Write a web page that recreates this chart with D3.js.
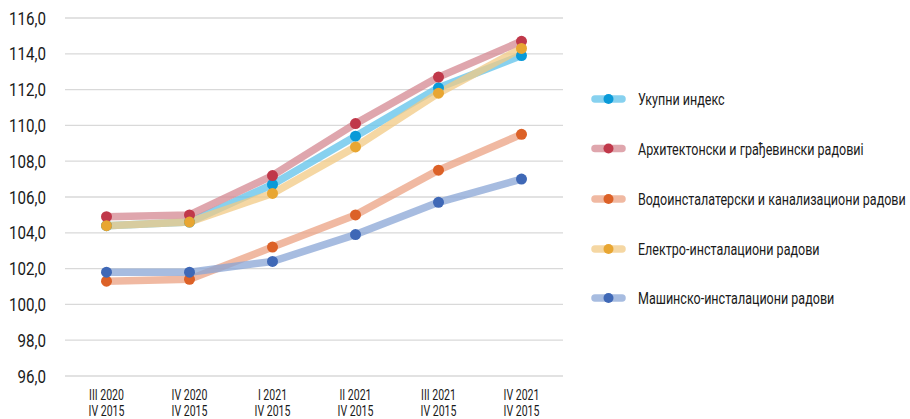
<!DOCTYPE html>
<html><head><meta charset="utf-8">
<script src="https://cdn.jsdelivr.net/npm/d3@7"></script>
<style>
body{margin:0;background:#fff;}
text{font-family:"Roboto",sans-serif;fill:#1a1a1a;}
</style></head>
<body><svg id="c" width="910" height="419"></svg>
<script>
const categories = [["III 2020","IV 2015"],["IV 2020","IV 2015"],["I 2021","IV 2015"],["II 2021","IV 2015"],["III 2021","IV 2015"],["IV 2021","IV 2015"]];
const seriesNames = ["Укупни индекс","Архитектонски и грађевински радовиі","Водоинсталатерски и канализациони радови","Електро-инсталациони радови","Машинско-инсталациони радови"];
const ukupni = [104.4,104.6,106.7,109.4,112.1,113.9];
const arhitektonski = [104.9,105.0,107.2,110.1,112.7,114.7];
const vodoinstalaterski = [101.3,101.4,103.2,105.0,107.5,109.5];
const elektro = [104.4,104.6,106.2,108.8,111.8,114.3];
const masinsko = [101.8,101.8,102.4,103.9,105.7,107.0];
const yTicks = [96,98,100,102,104,106,108,110,112,114,116];
const lineColors = ["#5fc1ea","#d48891","#eba283","#f1c984","#8aa5d6"];
const dotColors = ["#0a9ad8","#c0384a","#dc6127","#e8a632","#3f68b6"];
const allSeries = [ukupni, arhitektonski, vodoinstalaterski, elektro, masinsko];

const svg = d3.select("#c");
const x = d3.scaleBand().domain(d3.range(categories.length)).range([65,563]);
const y = d3.scaleLinear().domain([96,116]).range([376,18]);

// condense text horizontally by a ratio, around its anchor x
function condense(sel, ratio){
  sel.each(function(){
    const ax = +(this.getAttribute("x") || 0);
    this.setAttribute("transform", `translate(${ax},0) scale(${ratio},1) translate(${-ax},0)`);
  });
}

// grid
svg.append("g").selectAll("line").data(yTicks).join("line")
  .attr("x1",65).attr("x2",563).attr("y1",d=>y(d)).attr("y2",d=>y(d))
  .attr("stroke","#d9d9d9").attr("stroke-width",1.3);

// y axis labels
const yAxis = d3.axisLeft(y).tickValues(yTicks).tickSize(0).tickPadding(0)
  .tickFormat(d=>d3.format(".1f")(d).replace(".",","));
const ya = svg.append("g").attr("transform","translate(46,0)").call(yAxis);
ya.select(".domain").remove();
const yt = ya.selectAll("text").attr("font-size",19).attr("font-family","Roboto, sans-serif").attr("fill","#1a1a1a");
{
  const ref = yt.filter(d=>d===116).node().getComputedTextLength();
  condense(yt, 37/ref);
}

// x axis labels
const xAxis = d3.axisBottom(x).tickSize(0).tickFormat("");
const xa = svg.append("g").attr("transform","translate(0,376)").call(xAxis);
xa.select(".domain").remove();
xa.selectAll(".tick").each(function(d){
  const g = d3.select(this);
  g.append("text").attr("class","xl").attr("text-anchor","middle").attr("font-size",14).attr("x",0).attr("y",24).text(categories[d][0]);
  g.append("text").attr("class","xl").attr("text-anchor","middle").attr("font-size",14).attr("x",0).attr("y",40).text(categories[d][1]);
});
{
  const xl = xa.selectAll("text.xl");
  const ref = xl.filter((d,i)=>i===0).node().getComputedTextLength();
  condense(xl, 35/ref);
}

const line = d3.line().x((d,i)=>x(i)+x.bandwidth()/2).y(d=>y(d));
allSeries.forEach((s,k)=>{
  svg.append("path").datum(s).attr("d",line).attr("fill","none")
    .attr("stroke",lineColors[k]).attr("stroke-width",7.5).attr("stroke-opacity",0.75)
    .attr("stroke-linejoin","round").attr("stroke-linecap","round");
});
allSeries.forEach((s,k)=>{
  svg.append("g").selectAll("circle").data(s).join("circle")
    .attr("cx",(d,i)=>x(i)+x.bandwidth()/2).attr("cy",d=>y(d)).attr("r",5.5)
    .attr("fill",dotColors[k]);
});

// legend
const legY = [99,148.5,199,249,298];
const lg = svg.append("g");
seriesNames.forEach((n,k)=>{
  const g = lg.append("g").attr("transform",`translate(0,${legY[k]})`);
  g.append("line").attr("x1",595).attr("x2",622).attr("y1",0).attr("y2",0)
    .attr("stroke",lineColors[k]).attr("stroke-width",7.5).attr("stroke-opacity",0.75).attr("stroke-linecap","round");
  g.append("circle").attr("cx",608.5).attr("cy",0).attr("r",5).attr("fill",dotColors[k]);
  g.append("text").attr("class","lt").attr("x",638).attr("y",6).attr("font-size",16.5).text(n);
});
{
  const lt = lg.selectAll("text.lt");
  const ref = lt.filter((d,i)=>i===2).node().getComputedTextLength();
  condense(lt, 268/ref);
}
</script></body></html>
